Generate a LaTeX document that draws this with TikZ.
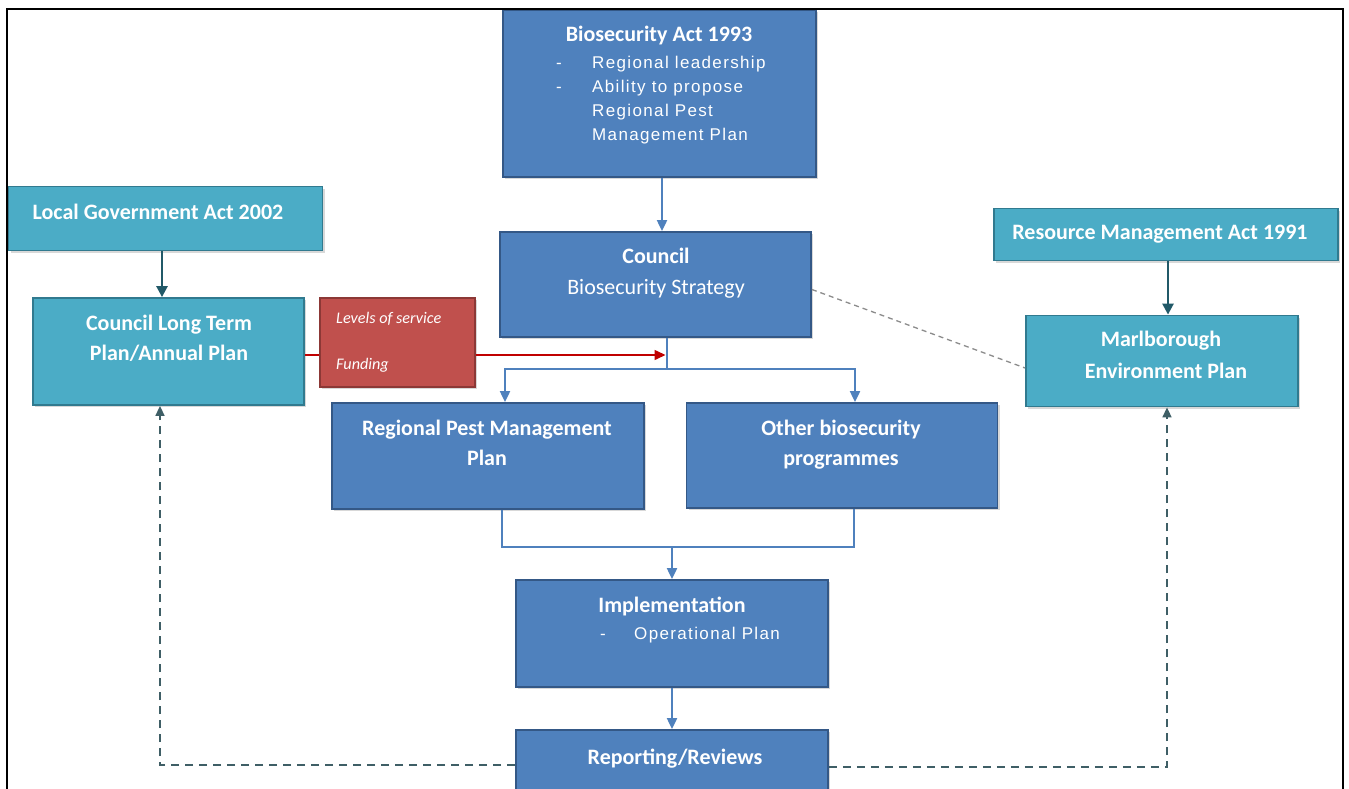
\documentclass[tikz,border=0pt]{standalone}
\usepackage{fontspec}
\setmainfont{Carlito}
\newfontfamily\bulletfont[LetterSpace=8]{Liberation Sans}
\usetikzlibrary{arrows.meta,shadows,calc}
\definecolor{bluefill}{HTML}{4F81BD}
\definecolor{blueedge}{HTML}{345886}
\definecolor{tealfill}{HTML}{4BACC6}
\definecolor{tealedge}{HTML}{317A8F}
\definecolor{redfill}{HTML}{C0504D}
\definecolor{rededge}{HTML}{8C3836}
\definecolor{redarrowc}{HTML}{C00000}
\definecolor{tealarrowc}{HTML}{215968}
\definecolor{fbdash}{HTML}{3F5F66}
\definecolor{greydash}{HTML}{8C8C8C}
\tikzset{
  box/.style={draw, line width=1.8pt, inner sep=0pt,
    drop shadow={opacity=0.3, shadow xshift=2pt, shadow yshift=-2pt}},
  bluebox/.style={box, fill=bluefill, draw=blueedge},
  tealbox/.style={box, fill=tealfill, draw=tealedge},
  redbox/.style={box, fill=redfill, draw=rededge},
  ttl/.style={text=white, font=\fontsize{22}{26}\selectfont\bfseries, inner sep=0pt, anchor=base},
  rgl/.style={text=white, font=\fontsize{22}{26}\selectfont, inner sep=0pt, anchor=base},
  bul/.style={text=white, font=\bulletfont\fontsize{17}{23}\selectfont, inner sep=0pt, anchor=base west},
  itl/.style={text=white, font=\fontsize{16.2}{19}\selectfont\itshape, inner sep=0pt, anchor=base west},
  bluepipe/.style={draw=bluefill, line width=2pt},
  bluearrow/.style={bluepipe, -{Triangle[length=11pt,width=10pt]}},
  tealarrow/.style={draw=tealarrowc, line width=2.5pt, -{Triangle[length=11pt,width=11pt]}},
  redpipe/.style={draw=redarrowc, line width=1.5pt},
  redarrow/.style={redpipe, -{Triangle[length=11pt,width=10pt]}},
  greydashed/.style={draw=greydash, line width=1.3pt, dash pattern=on 5pt off 4pt},
  fbdashed/.style={draw=fbdash, line width=1.6pt, dash pattern=on 8pt off 6pt, -{Triangle[length=10pt,width=9pt]}},
}
\begin{document}
\begin{tikzpicture}[x=1pt,y=-1pt]
\clip (0,0) rectangle (1349,789);
\fill[white] (0,0) rectangle (1349,789);

% boxes
\node[bluebox, minimum width=313pt, minimum height=167pt] (bio) at (659.5,93.5) {};
\node[bluebox, minimum width=311pt, minimum height=105pt] (council) at (655.5,284.5) {};
\node[tealbox, minimum width=314pt, minimum height=64pt] (lga) at (165.5,218.5) {};
\node[tealbox, minimum width=271pt, minimum height=107pt] (ltp) at (168.5,351.5) {};
\node[redbox, minimum width=155pt, minimum height=89pt] (red) at (397.5,342.5) {};
\node[tealbox, minimum width=344pt, minimum height=52pt] (rma) at (1166,234.5) {};
\node[tealbox, minimum width=272pt, minimum height=91pt] (mep) at (1162,361) {};
\node[bluebox, minimum width=312pt, minimum height=106pt] (rpmp) at (488,456) {};
\node[bluebox, minimum width=311pt, minimum height=105pt] (obp) at (842,455.5) {};
\node[bluebox, minimum width=312pt, minimum height=107pt] (impl) at (672,633.5) {};
\node[bluebox, minimum width=312pt, minimum height=70pt] (rep) at (672,765) {};

% texts
\node[ttl] (biot) at (659,42) {Biosecurity Act 1993};
\node[bul] (bd1) at (556,69) {-};
\node[bul] (b1) at (592,69) {Regional leadership};
\node[bul] (bd2) at (556,93) {-};
\node[bul] (b2) at (592,93) {Ability to propose};
\node[bul] (b3) at (592,117) {Regional Pest};
\node[bul] (b4) at (592,140) {Management Plan};

\node[ttl] (ct1) at (656,263) {Council};
\node[rgl] (ct2) at (656,294) {Biosecurity Strategy};

\node[ttl] (lgat) at (158,219) {Local Government Act 2002};
\node[ttl] (ltp1) at (169,330) {Council Long Term};
\node[ttl] (ltp2) at (169,360) {Plan/Annual Plan};

\node[itl] (rt1) at (336,323) {Levels of service};
\node[itl] (rt2) at (336,369) {Funding};

\node[ttl] (rmat) at (1160,239) {Resource Management Act 1991};
\node[ttl] (mep1) at (1161,346) {Marlborough};
\node[ttl] (mep2) at (1166,378) {Environment Plan};

\node[ttl] (rp1) at (487,435) {Regional Pest Management};
\node[ttl] (rp2) at (487,465) {Plan};
\node[ttl] (ob1) at (841,435) {Other biosecurity};
\node[ttl] (ob2) at (841,465) {programmes};

\node[ttl] (im1) at (672,612) {Implementation};
\node[bul] (imd) at (600,639) {-};
\node[bul] (im2) at (634,639) {Operational Plan};

\node[ttl] (rept) at (675,764) {Reporting/Reviews};

% helper coordinates
\coordinate (c1) at (662,0);
\coordinate (split) at (667,369);
\coordinate (jl) at (505,369);
\coordinate (jr) at (855,369);
\coordinate (ry) at (0,355);
\coordinate (lx) at (162,0);
\coordinate (rx) at (1168,0);
\coordinate (ml) at (502,547);
\coordinate (mr) at (854,547);
\coordinate (fl) at (160,765);
\coordinate (fr) at (1167,767);

% connectors
\draw[bluearrow] (bio.south -| c1) -- (council.north -| c1);
\draw[bluepipe] (council.south -| split) -- (split);
\draw[bluearrow] (split) -- (jl) -- (rpmp.north -| jl);
\draw[bluearrow] (split) -- (jr) -- (obp.north -| jr);

\draw[redpipe] (ltp.east |- ry) -- (red.west |- ry);
\draw[redarrow, shorten >=1.5pt] (red.east |- ry) -- (split |- ry);

\draw[greydashed] ($(council.east)+(0,5)$) -- ($(mep.west)+(0,7)$);

\draw[tealarrow] (lga.south -| lx) -- (ltp.north -| lx);
\draw[tealarrow] (rma.south -| rx) -- (mep.north -| rx);

\draw[bluepipe] (rpmp.south -| ml) -- (ml) -- (mr) -- (obp.south -| mr);
\draw[bluearrow] (impl.north |- ml) -- (impl.north);
\draw[bluearrow] (impl.south) -- (rep.north);

\draw[fbdashed] (rep.west |- fl) -- (fl) -- (ltp.south -| fl);
\draw[fbdashed] (rep.east |- fr) -- (fr) -- (mep.south -| fr);

% frame
\draw[line width=2pt, black] (7,792) -- (7,9) -- (1343,9) -- (1343,792);
\end{tikzpicture}
\end{document}
